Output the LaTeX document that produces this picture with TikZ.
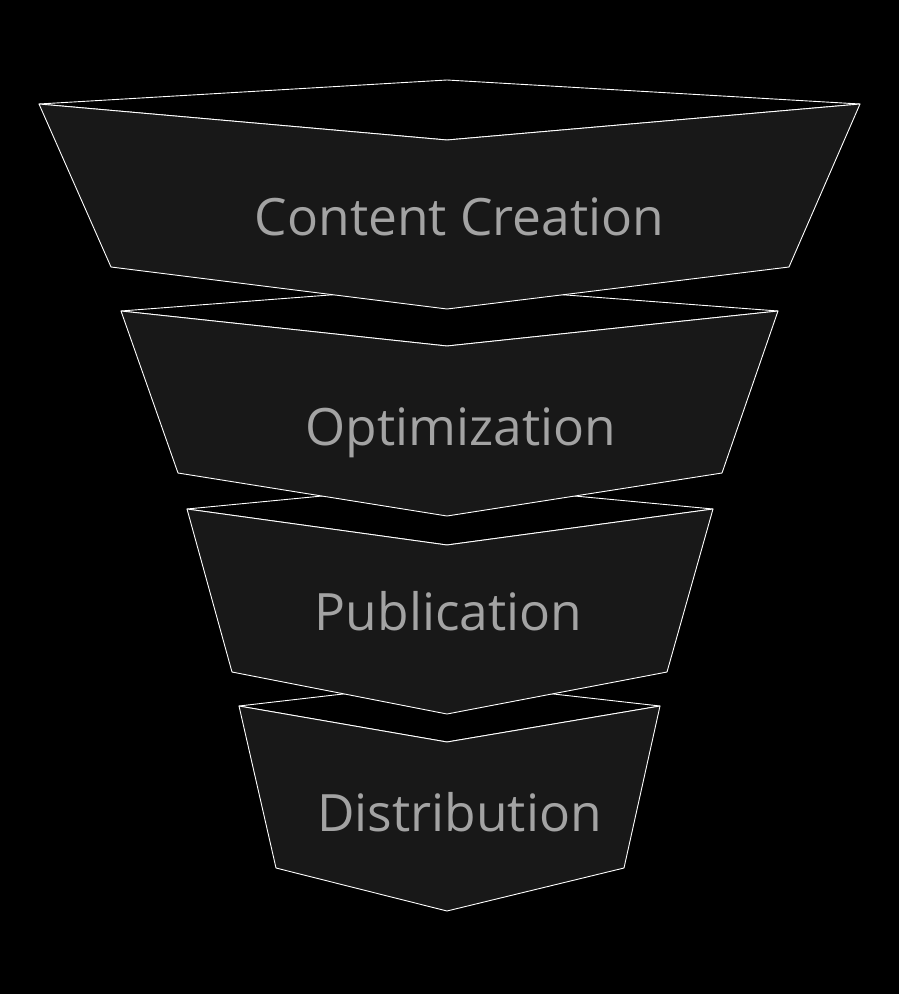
\documentclass[tikz,border=0pt]{standalone}
\usepackage{fontspec}
\setmainfont{Open Sans}
\definecolor{facegray}{HTML}{181818}
\definecolor{labelgray}{HTML}{A3A3A3}
\tikzset{
	topface/.style={draw=white,fill=black,line width=0.9pt},
	frontface/.style={draw=white,fill=facegray,line width=0.9pt},
	stagelabel/.style={text=labelgray,font=\fontsize{51.5}{60}\selectfont,inner sep=0pt,anchor=base}
}
\begin{document}
\begin{tikzpicture}[line join=round, line cap=round,x=1pt,y=-1pt]
	\fill[black] (0,0) rectangle (899,994);
	\useasboundingbox (0,0) rectangle (899,994);
	% stage 4
	\path 
	(239,706) coordinate (L4)
	(447,682) coordinate (K4)
	(660,706) coordinate (R4)
	(447,742) coordinate (F4)
	(276,868) coordinate (BL4)
	(447,911) coordinate (M4)
	(624,868) coordinate (BR4)
	;
	\draw[topface] (L4)--(K4)--(R4)--(F4)--cycle;
	\draw[frontface] (L4)--(F4)--(R4)--(BR4)--(M4)--(BL4)--cycle;
	\node[stagelabel] (dist) at (459.5,831) {Distribution};
	% stage 3
	\path 
	(187,509) coordinate (L3)
	(447,484) coordinate (K3)
	(713,509) coordinate (R3)
	(447,545) coordinate (F3)
	(232,672) coordinate (BL3)
	(447,714) coordinate (M3)
	(667,672) coordinate (BR3)
	;
	\draw[topface] (L3)--(K3)--(R3)--(F3)--cycle;
	\draw[frontface] (L3)--(F3)--(R3)--(BR3)--(M3)--(BL3)--cycle;
	\node[stagelabel] (pub) at (448.5,630) {Publication};
	% stage 2
	\path 
	(121,311) coordinate (L2)
	(447,286) coordinate (K2)
	(778,311) coordinate (R2)
	(447,346) coordinate (F2)
	(178,473) coordinate (BL2)
	(447,516) coordinate (M2)
	(722,473) coordinate (BR2)
	;
	\draw[topface] (L2)--(K2)--(R2)--(F2)--cycle;
	\draw[frontface] (L2)--(F2)--(R2)--(BR2)--(M2)--(BL2)--cycle;
	\node[stagelabel] (opt) at (461,445) {Optimization};
	% stage 1
	\path 
	(39,104) coordinate (L1)
	(447,80) coordinate (K1)
	(860,104) coordinate (R1)
	(447,140) coordinate (F1)
	(111,267) coordinate (BL1)
	(447,309) coordinate (M1)
	(789,267) coordinate (BR1)
	;
	\draw[topface] (L1)--(K1)--(R1)--(F1)--cycle;
	\draw[frontface] (L1)--(F1)--(R1)--(BR1)--(M1)--(BL1)--cycle;
	\node[stagelabel] (cc) at (459.5,235) {Content Creation};
\end{tikzpicture}
\end{document}
